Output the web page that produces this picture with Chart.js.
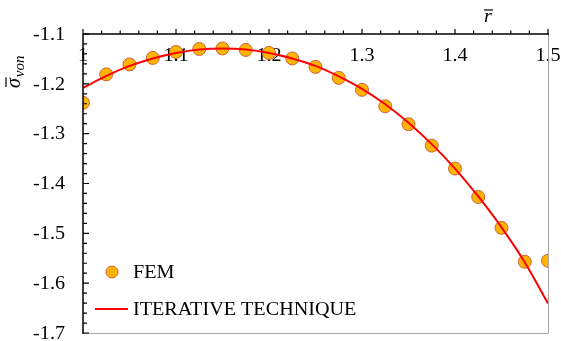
<!DOCTYPE html>
<html>
<head>
<meta charset="utf-8">
<script src="https://cdn.jsdelivr.net/npm/chart.js@4/dist/chart.umd.min.js"></script>
<style>
  html, body { margin: 0; padding: 0; background: #fff; }
  #wrap { width: 561px; height: 341px; }
</style>
</head>
<body>
<div id="wrap"><canvas id="grafico"></canvas></div>
<script>
// ---------------- DADOS ----------------
const raios = [1.0, 1.025, 1.05, 1.075, 1.1, 1.125, 1.15, 1.175, 1.2, 1.225, 1.25,
               1.275, 1.3, 1.325, 1.35, 1.375, 1.4, 1.425, 1.45, 1.475, 1.5];
const tensaoFEM = [-1.238, -1.181, -1.161, -1.148, -1.136, -1.130, -1.129, -1.132, -1.138, -1.149, -1.166,
                   -1.188, -1.212, -1.245, -1.281, -1.324, -1.370, -1.427, -1.489, -1.557, -1.555];
const tensaoIterativa = [-1.208, -1.184, -1.164, -1.149, -1.138, -1.131, -1.129, -1.131, -1.138, -1.149, -1.164,
                         -1.185, -1.210, -1.241, -1.278, -1.321, -1.370, -1.426, -1.488, -1.558, -1.641];
const ticksX = [1.0, 1.1, 1.2, 1.3, 1.4, 1.5];
const rotulosX = ['1', '1.1', '1.2', '1.3', '1.4', '1.5'];
const ticksY = [-1.1, -1.2, -1.3, -1.4, -1.5, -1.6, -1.7];
const rotulosY = ['-1.1', '-1.2', '-1.3', '-1.4', '-1.5', '-1.6', '-1.7'];
const nomesSeries = ['FEM', 'ITERATIVE TECHNIQUE'];

const corPonto = '#FFB400';
const corBordaPonto = '#C8643C';
const corLinha = '#FF0000';
const fonteSerif = '"Liberation Serif", "DejaVu Serif", serif';
const esticar = 1.12; // a figura original tem o texto levemente alargado

// escreve texto alargado na horizontal
function textoLargo(ctx, texto, x, y) {
  ctx.save();
  ctx.translate(x, y);
  ctx.scale(esticar, 1);
  ctx.fillText(texto, 0, 0);
  ctx.restore();
}

// ---------------- PLUGIN DOS EIXOS (ticks, rótulos, títulos, legenda) ----------------
const eixosPlugin = {
  id: 'eixosPlugin',
  beforeDatasetsDraw(chart) {
    const { ctx, scales: { x, y } } = chart;
    // rótulos do eixo x ficam dentro da área, logo abaixo do eixo superior
    ctx.save();
    ctx.fillStyle = '#000';
    ctx.font = '18px ' + fonteSerif;
    ctx.textAlign = 'center';
    ctx.textBaseline = 'middle';
    ticksX.forEach((v, i) => {
      textoLargo(ctx, rotulosX[i], x.getPixelForValue(v), y.top + 22);
    });
    ctx.restore();
  },
  afterDatasetsDraw(chart) {
    const { ctx, chartArea: a, scales: { x, y } } = chart;
    ctx.save();

    // bordas cinza (direita e baixo)
    ctx.strokeStyle = '#A8A8A8';
    ctx.lineWidth = 1;
    ctx.beginPath();
    ctx.moveTo(a.right + 0.5, a.top);
    ctx.lineTo(a.right + 0.5, a.bottom + 0.5);
    ctx.lineTo(a.left, a.bottom + 0.5);
    ctx.stroke();

    // eixos pretos (topo e esquerda)
    ctx.strokeStyle = '#000';
    ctx.lineWidth = 1.5;
    ctx.beginPath();
    ctx.moveTo(a.left, a.top);
    ctx.lineTo(a.right + 1, a.top);
    ctx.moveTo(a.left, a.top);
    ctx.lineTo(a.left, a.bottom + 1);
    ctx.stroke();

    // ticks do eixo x (para cima), a cada 0.02
    ctx.lineWidth = 1.2;
    ctx.beginPath();
    for (let k = 0; k <= 25; k++) {
      const px = x.getPixelForValue(1.0 + k * 0.02);
      const len = (k % 5 === 0) ? 5 : 3.5;
      ctx.moveTo(px, a.top);
      ctx.lineTo(px, a.top - len);
    }
    // ticks do eixo y (para dentro), a cada 0.02
    for (let k = 0; k <= 30; k++) {
      const py = y.getPixelForValue(-1.1 - k * 0.02);
      const len = (k % 5 === 0) ? 6 : 4;
      ctx.moveTo(a.left, py);
      ctx.lineTo(a.left + len, py);
    }
    ctx.stroke();

    // rótulos do eixo y
    ctx.fillStyle = '#000';
    ctx.font = '18px ' + fonteSerif;
    ctx.textAlign = 'right';
    ctx.textBaseline = 'middle';
    ticksY.forEach((v, i) => {
      textoLargo(ctx, rotulosY[i], a.left - 18, y.getPixelForValue(v) + 1);
    });

    // título do eixo x: r com barra
    ctx.font = 'italic 18px ' + fonteSerif;
    ctx.textAlign = 'center';
    ctx.textBaseline = 'alphabetic';
    textoLargo(ctx, 'r', 488, 22);
    ctx.lineWidth = 1.2;
    ctx.beginPath();
    ctx.moveTo(484, 10);
    ctx.lineTo(493, 10);
    ctx.stroke();

    // título do eixo y: sigma barra com subscrito "von" (rotacionado)
    ctx.save();
    ctx.translate(20, 88);
    ctx.rotate(-Math.PI / 2);
    ctx.textAlign = 'left';
    ctx.font = 'italic 20px ' + fonteSerif;
    ctx.fillText('σ', 0, 0);
    const wSigma = ctx.measureText('σ').width;
    ctx.beginPath();
    ctx.moveTo(1, -14);
    ctx.lineTo(wSigma + 1, -14);
    ctx.stroke();
    ctx.font = 'italic 15px ' + fonteSerif;
    ctx.fillText('von', wSigma + 1, 4);
    ctx.restore();

    // legenda
    ctx.fillStyle = corPonto;
    ctx.strokeStyle = corBordaPonto;
    ctx.lineWidth = 1;
    ctx.beginPath();
    ctx.arc(112, 272, 6, 0, Math.PI * 2);
    ctx.fill();
    ctx.stroke();
    ctx.strokeStyle = corLinha;
    ctx.lineWidth = 2;
    ctx.beginPath();
    ctx.moveTo(95, 309);
    ctx.lineTo(128, 309);
    ctx.stroke();
    ctx.fillStyle = '#000';
    ctx.font = '18px ' + fonteSerif;
    ctx.textAlign = 'left';
    ctx.textBaseline = 'middle';
    textoLargo(ctx, nomesSeries[0], 133, 273);
    textoLargo(ctx, nomesSeries[1], 133, 310);

    ctx.restore();
  }
};

// ---------------- GRAFICO ----------------
const ctx = document.getElementById('grafico').getContext('2d');
const grafico = new Chart(ctx, {
  type: 'line',
  data: {
    datasets: [{
      label: nomesSeries[0],
      data: raios.map((r, i) => ({ x: r, y: tensaoFEM[i] })),
      showLine: false,
      pointRadius: 6.5,
      pointBackgroundColor: corPonto,
      pointBorderColor: corBordaPonto,
      pointBorderWidth: 1,
      order: 2
    }, {
      label: nomesSeries[1],
      data: raios.map((r, i) => ({ x: r, y: tensaoIterativa[i] })),
      borderColor: corLinha,
      borderWidth: 2,
      pointRadius: 0,
      cubicInterpolationMode: 'monotone',
      fill: false,
      order: 1
    }]
  },
  options: {
    responsive: true,
    maintainAspectRatio: false,
    animation: false,
    layout: { padding: { left: 83, top: 34, right: 13, bottom: 8 } },
    scales: {
      x: { type: 'linear', min: 1.0, max: 1.5, display: false },
      y: { type: 'linear', min: -1.7, max: -1.1, display: false }
    },
    plugins: {
      legend: { display: false },
      tooltip: { enabled: false }
    }
  },
  plugins: [eixosPlugin]
});
</script>
</body>
</html>
